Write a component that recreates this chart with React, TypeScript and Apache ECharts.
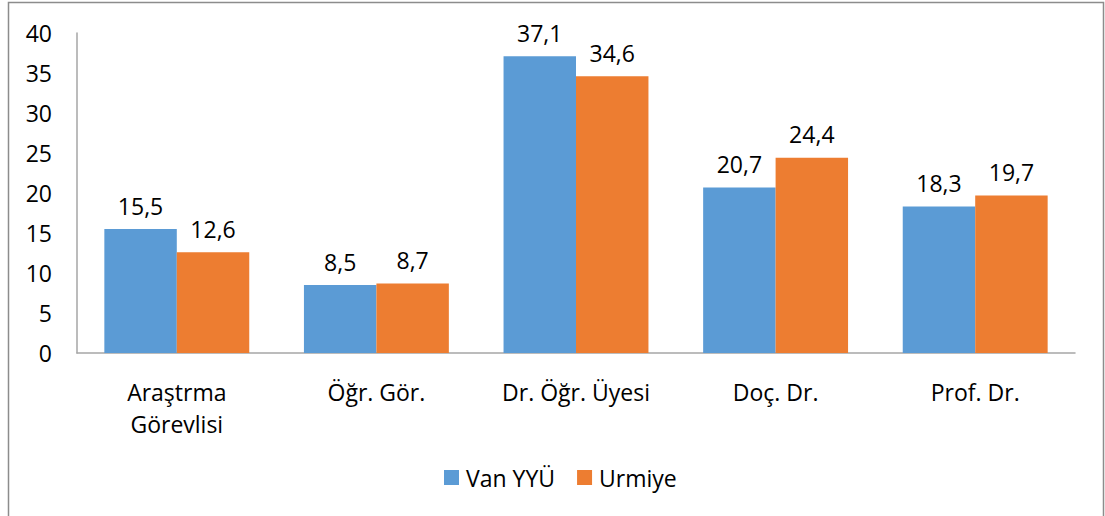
import React, { useEffect, useRef } from "react";
import * as echarts from "echarts";

const categories = ["Araştrma\nGörevlisi", "Öğr. Gör.", "Dr. Öğr. Üyesi", "Doç. Dr.", "Prof. Dr."];
const vanValues = [15.5, 8.5, 37.1, 20.7, 18.3];
const urmiyeValues = [12.6, 8.7, 34.6, 24.4, 19.7];
const seriesNames = ["Van YYÜ", "Urmiye"];

const FONT = "Open Sans";

export default function App() {
  const ref = useRef<HTMLDivElement>(null);
  useEffect(() => {
    if (!ref.current) return;
    const chart = echarts.init(ref.current, null, { renderer: "svg" });
    const labelFmt = (p: any) => String(p.value).replace(".", ",");
    const label = {
      show: true,
      position: "top",
      distance: 12,
      color: "#000",
      fontFamily: FONT,
      fontSize: 23,
      formatter: labelFmt,
    };
    chart.setOption({
      animation: false,
      backgroundColor: "#fff",
      textStyle: { fontFamily: FONT },
      grid: { left: 77, top: 33, right: 30, bottom: 163, containLabel: false },
      legend: {
        data: seriesNames,
        left: 439,
        top: 461,
        icon: "rect",
        itemWidth: 15,
        itemHeight: 15,
        itemGap: 22,
        textStyle: { fontFamily: FONT, fontSize: 23, color: "#000", padding: [0, 0, 0, 2] },
      },
      xAxis: {
        type: "category",
        data: categories,
        axisLine: { lineStyle: { color: "#A6A6A6", width: 1.5 } },
        axisTick: { show: false },
        axisLabel: { color: "#000", fontFamily: FONT, fontSize: 23, margin: 23, lineHeight: 32, interval: 0 },
      },
      yAxis: {
        type: "value",
        min: 0,
        max: 40,
        interval: 5,
        axisLine: { show: true, lineStyle: { color: "#A6A6A6", width: 1.5 } },
        axisTick: { show: false },
        splitLine: { show: false },
        axisLabel: { color: "#000", fontFamily: FONT, fontSize: 23, margin: 25 },
      },
      series: [
        {
          name: seriesNames[0],
          type: "bar",
          data: vanValues,
          barWidth: "36.3%",
          barGap: "0%",
          itemStyle: { color: "#5B9BD5" },
          label,
        },
        {
          name: seriesNames[1],
          type: "bar",
          data: urmiyeValues,
          barWidth: "36.3%",
          barGap: "0%",
          itemStyle: { color: "#ED7D31" },
          label,
        },
      ],
      graphic: [
        {
          type: "rect",
          shape: { x: 8.5, y: 2.5, width: 1095, height: 600 },
          style: { fill: "none", stroke: "#8C8C8C", lineWidth: 1.5 },
          silent: true,
        },
      ],
    });
    return () => chart.dispose();
  }, []);
  return (
    <div
      ref={ref}
      style={{ position: "fixed", left: 0, top: 0, width: 1105, height: 516 }}
    />
  );
}
